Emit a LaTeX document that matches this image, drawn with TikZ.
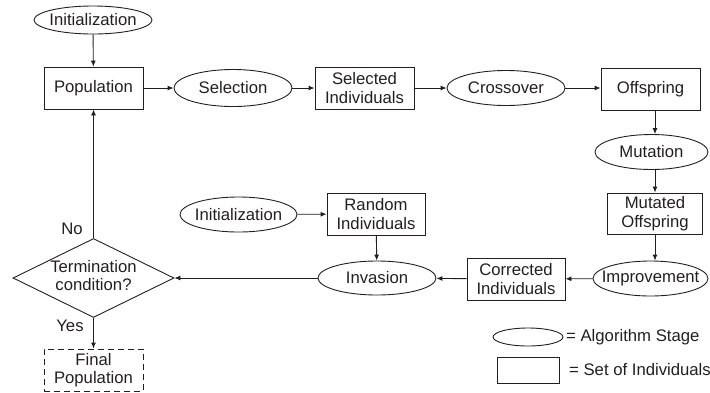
\documentclass[tikz,border=0pt]{standalone}
\usepackage{fontspec}
\setmainfont{Liberation Sans}
\usetikzlibrary{shapes.geometric,arrows.meta}
\definecolor{ink}{RGB}{35,31,32}
\newcommand{\zb}[1]{\makebox[0pt]{#1}}
\newcommand{\zt}[1]{\makebox[0pt]{\begin{tabular}{@{}c@{}}#1\end{tabular}}}
\begin{document}
\begin{tikzpicture}[x=1pt,y=-1pt,
  every node/.style={font=\fontsize{16.7}{18.5}\selectfont, text=ink},
  stage/.style={draw=ink, line width=0.9pt, ellipse, inner sep=0pt, minimum width=118pt, minimum height=35pt},
  indiv/.style={draw=ink, line width=0.9pt, rectangle, inner sep=0pt, align=center, minimum width=99pt, minimum height=42pt},
  decide/.style={draw=ink, line width=0.9pt, diamond, aspect=2, inner sep=0pt, minimum width=161pt, minimum height=79pt},
  conn/.style={draw=ink, line width=0.9pt, -{Latex[length=6pt,width=5pt]}},
  lbl/.style={inner sep=0pt}
]
\useasboundingbox (0,0) rectangle (710,392);

\node[stage, minimum height=28pt] (initA) at (93,20) {\zb{Initialization}};
\node[indiv] (pop) at (93.5,88) {Population};
\node[stage, minimum height=37pt] (sel) at (233,88) {\zb{Selection}};
\node[indiv] (si) at (364.5,88) {Selected\\Individuals};
\node[stage, minimum height=35pt] (cross) at (506,88) {\zb{Crossover}};
\node[indiv] (off) at (650.5,89) {Offspring};
\node[stage, minimum width=113pt] (mut) at (651.5,152) {\zb{Mutation}};
\node[indiv, minimum width=95pt, minimum height=41pt] (mo) at (655,213.5) {Mutated\\Offspring};
\node[stage, minimum width=115pt, minimum height=35pt] (imp) at (650.5,278.5) {\zb{Improvement}};
\node[indiv, minimum width=98pt] (corr) at (516,279) {Corrected\\Individuals};
\node[stage, minimum height=34pt] (inv) at (377,278) {\zb{Invasion}};
\node[indiv, minimum width=98pt] (ri) at (376,214) {Random\\Individuals};
\node[stage, minimum width=117pt] (initB) at (238.5,214.5) {\zb{Initialization}};
\node[decide] (term) at (93.5,278) {\zt{Termination\\condition?}};
\node[indiv, dashed, dash pattern=on 6pt off 4pt] (fin) at (93.5,370) {Final\\Population};

\node[lbl] (no) at (72,229) {No};
\node[lbl] (yes) at (70,326) {Yes};

% legend
\node[stage, minimum width=70pt, minimum height=18pt] (legE) at (528,337) {};
\node[lbl, anchor=west] (legEt) at (566,337) {= Algorithm Stage};
\node[indiv, minimum width=62pt, minimum height=26pt] (legR) at (528,370) {};
\node[lbl, anchor=west] (legRt) at (569,370) {= Set of Individuals};

% connectors
\draw[conn] (initA) -- (pop);
\draw[conn] (pop) -- (sel);
\draw[conn] (sel) -- (si);
\draw[conn] (si) -- (cross);
\draw[conn] (cross) -- (off.west |- cross);
\draw[conn] (off.south -| mo.north) -- (mut.north -| mo.north);
\draw[conn] (mut.south -| mo.north) -- (mo.north);
\draw[conn] (mo.south) -- (imp.north -| mo.south);
\draw[conn] (imp) -- (corr);
\draw[conn] (corr) -- (inv);
\draw[conn] (initB) -- (ri);
\draw[conn] (ri) -- (inv);
\draw[conn] (inv) -- (term);
\draw[conn] (term) -- (pop);
\draw[conn] (term) -- (fin);
\end{tikzpicture}
\end{document}
